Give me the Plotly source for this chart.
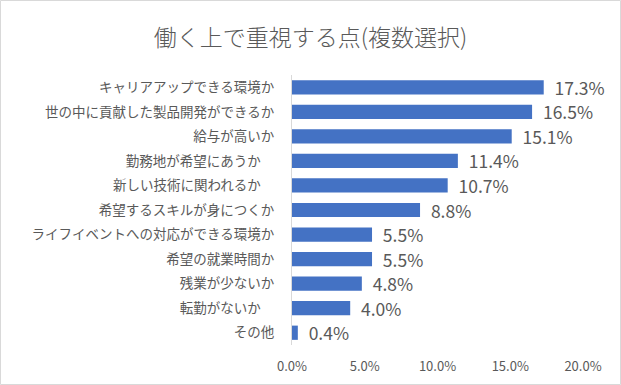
import plotly.graph_objects as go

categories = [
    "キャリアアップできる環境か",
    "世の中に貢献した製品開発ができるか",
    "給与が高いか",
    "勤務地が希望にあうか\u3000",
    "新しい技術に関われるか\u3000",
    "希望するスキルが身につくか",
    "ライフイベントへの対応ができる環境か",
    "希望の就業時間か",
    "残業が少ないか",
    "転勤がないか\u3000",
    "その他",
]
values = [17.3, 16.5, 15.1, 11.4, 10.7, 8.8, 5.5, 5.5, 4.8, 4.0, 0.4]
tick_vals = [0, 5, 10, 15, 20]
tick_text = ["0.0%", "5.0%", "10.0%", "15.0%", "20.0%"]
title_text = "働く上で重視する点(複数選択)"

FONT = "Noto Sans CJK JP"
GRAY = "#595959"

fig = go.Figure(go.Bar(
    x=values,
    y=categories,
    orientation="h",
    marker=dict(color="#4472C4", line=dict(width=0)),
    text=[f"\u00a0\u00a0{v:.1f}%" for v in values],
    textposition="outside",
    constraintext="none",
    textfont=dict(family=FONT, size=17.5, color=GRAY),
    cliponaxis=False,
    width=0.58,
))

fig.update_layout(
    width=621, height=385,
    margin=dict(l=292, r=38, t=75, b=40, autoexpand=False),
    paper_bgcolor="white", plot_bgcolor="white",
    title=dict(text=title_text, x=0.5, xanchor="center", y=1 - 38 / 385, yanchor="middle",
               xref="container", yref="container",
               font=dict(family=FONT, size=23, color=GRAY, weight=300)),
    font=dict(family=FONT, color=GRAY),
    showlegend=False,
    xaxis=dict(range=[0, 20], tickvals=tick_vals, ticktext=tick_text,
               showgrid=False, zeroline=False, showline=False,
               tickfont=dict(family=FONT, size=13, color=GRAY), ticks="",
               ticklabelstandoff=12),
    yaxis=dict(categoryorder="array", categoryarray=categories[::-1],
               showgrid=False, zeroline=False, showline=True,
               linecolor="#D9D9D9", linewidth=1, ticks="",
               tickfont=dict(family=FONT, size=13.5, color=GRAY),
               ticklabelstandoff=14),
)

fig.add_shape(type="rect", xref="paper", yref="paper",
              x0=-291.5/291, x1=(621-292-0.5)/291, y0=-39.5/270, y1=(385-40-0.5)/270,
              line=dict(color="#D9D9D9", width=1), fillcolor="rgba(0,0,0,0)", layer="below")

fig.write_html("out.html", config={"displayModeBar": False},
               post_script="document.body.style.margin='0';")
